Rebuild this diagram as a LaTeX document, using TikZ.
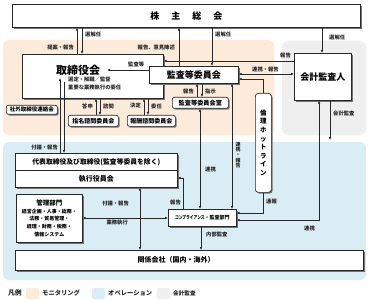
\documentclass[tikz,border=0pt]{standalone}
\usepackage{fontspec}
\setmainfont{Noto Sans CJK JP}
\usepackage{graphicx}
\usetikzlibrary{arrows.meta,shadows}

\definecolor{mon}{RGB}{252,234,219}
\definecolor{ope}{RGB}{219,237,244}
\definecolor{aud}{RGB}{239,239,239}
\definecolor{ln}{RGB}{40,40,40}

\begin{document}
\begin{tikzpicture}[x=1pt,y=-1pt,
  box/.style={draw=ln, fill=white, line width=0.7pt, anchor=north west, inner sep=0pt,
    drop shadow={shadow xshift=1.3pt, shadow yshift=-1.3pt, fill=black!55, opacity=1}},
  rbox/.style={box, rounded corners=2pt},
  lab/.style={font=\fontsize{5.3}{6}\selectfont\bfseries, text=ln, inner sep=0pt},
  leg/.style={font=\fontsize{6.3}{7}\selectfont\bfseries, text=ln, inner sep=0pt, anchor=west},
  arr/.style={draw=ln, line width=0.6pt, -{Latex[length=3pt,width=2.6pt]}},
  darr/.style={draw=ln, line width=0.6pt, {Latex[length=3pt,width=2.6pt]}-{Latex[length=3pt,width=2.6pt]}},
]
\useasboundingbox (0,0) rectangle (369,302);
\fill[white] (0,0) rectangle (369,302);

% regions
\fill[mon, rounded corners=6pt] (3,40) rectangle (274,135);
\fill[aud, rounded corners=6pt] (282,41) rectangle (366,135);
\fill[ope, rounded corners=6pt] (3,142) rectangle (366,280);

% boxes
\node[box, minimum width=348pt, minimum height=23pt, font=\fontsize{9}{10}\selectfont\bfseries] (soukai) at (12,4)
  {株\hspace{12pt}主\hspace{12pt}総\hspace{12pt}会};
\node[box, minimum width=141pt, minimum height=44pt] (torishimari) at (22,54) {};
\node[inner sep=0pt, font=\fontsize{11}{12}\selectfont\bfseries] (tt) at (78,70) {取締役会};
\node[lab, anchor=west] (tt2) at (68,80) {選定・解職／監督};
\node[lab, anchor=west] (tt3) at (68,88) {重要な業務執行の委任};

\node[box, minimum width=89pt, minimum height=17pt, font=\fontsize{9}{10}\selectfont\bfseries] (kansa) at (149,66) {監査等委員会};
\node[box, minimum width=57pt, minimum height=47pt, font=\fontsize{9}{10}\selectfont\bfseries] (kaikei) at (294,53) {会計監査人};

\node[rbox, minimum width=51pt, minimum height=9pt, font=\fontsize{5.5}{6}\selectfont\bfseries] (shagai) at (6,105) {社外取締役連絡会};
\node[rbox, minimum width=50pt, minimum height=11pt, font=\fontsize{6}{7}\selectfont\bfseries] (shimei) at (68,115) {指名諮問委員会};
\node[rbox, minimum width=48pt, minimum height=11pt, font=\fontsize{6}{7}\selectfont\bfseries] (houshu) at (127,115) {報酬諮問委員会};
\node[rbox, minimum width=56pt, minimum height=11pt, font=\fontsize{6.2}{7}\selectfont\bfseries] (kansashitsu) at (172,97) {監査等委員会室};
\node[box, rounded corners=3pt, minimum width=16pt, minimum height=99pt, align=center,
  font=\fontsize{6.5}{8.6}\selectfont\bfseries] (rinri) at (255,93) {倫\\理\\ホ\\ッ\\ト\\ラ\\イ\\ン};

\node[box, minimum width=162pt, minimum height=34pt] (dgroup) at (15,153) {};
\node[draw=ln, line width=0.7pt, fill=white, anchor=north west, inner sep=0pt, minimum width=162pt, minimum height=17pt,
  font=\fontsize{6.8}{8}\selectfont\bfseries] (daihyo) at (15,153) {代表取締役及び取締役(監査等委員を除く)};
\node[draw=ln, line width=0.7pt, fill=white, anchor=north west, inner sep=0pt, minimum width=162pt, minimum height=17pt,
  font=\fontsize{7}{8}\selectfont\bfseries] (shikkou) at (15,170) {執行役員会};

\node[box, minimum width=66pt, minimum height=48pt, align=center, font=\fontsize{5}{7.6}\selectfont\bfseries] (kanri) at (16,194)
  {{\fontsize{6.5}{7.6}\selectfont 管理部門}\\経営企画・人事・総務・\\法務・貿易管理・\\経理・財務・税務・\\情報システム};
\node[box, minimum width=68pt, minimum height=17pt, font=\fontsize{5}{6}\selectfont\bfseries] (comp) at (168,209)
  {\scalebox{0.75}[1]{コンプライアンス}・監査部門};
\node[box, minimum width=348pt, minimum height=20pt] (kankei) at (15,250) {};
\node[inner sep=0pt, font=\fontsize{7}{8}\selectfont\bfseries] (kt) at (176,260) {関係会社（国内・海外）};

% connectors
\draw[arr] (77,0 |- torishimari.north) -- (77,0 |- soukai.south);
\node[lab, anchor=east] (l1) at (74,47) {提案・報告};
\draw[arr] (82,0 |- soukai.south) -- (82,0 |- torishimari.north);
\node[lab, anchor=west] (l2) at (85,34) {選解任};
\draw[arr] (179,0 |- kansa.north) -- (179,0 |- soukai.south);
\node[lab, anchor=east] (l3) at (175,48) {報告、意見陳述};
\draw[arr] (212,0 |- soukai.south) -- (212,0 |- kansa.north);
\node[lab, anchor=west] (l4) at (215,34) {選解任};
\draw[arr] (322,0 |- soukai.south) -- (322,0 |- kaikei.north);
\node[lab, anchor=west] (l5) at (329,37) {選解任};
\draw[arr] (0,61 -| kaikei.west) -- (0,61 -| torishimari.east);
\node[lab, anchor=east] (l6) at (291,55) {報告};
\coordinate (kin) at (107,70);
\draw[arr] (0,70 -| kansa.west) -- (kin);
\node[lab, anchor=west] (l7) at (128,64) {監査等};
\draw[darr] (0,74 -| kansa.east) -- (0,74 -| kaikei.west);
\node[lab, anchor=west] (l8) at (252,69) {連携・報告};
\draw[arr] (263,0 |- rinri.north) -- (263,79) -- (0,79 -| kansa.east);
\draw[arr] (197,0 |- kansashitsu.north) -- (197,0 |- kansa.south);
\draw[arr] (202,0 |- kansa.south) -- (202,0 |- kansashitsu.north);
\node[lab, anchor=east] (l9) at (194,91) {報告};
\node[lab, anchor=west] (l10) at (205,91) {指示};
\draw[darr] (200,0 |- kansashitsu.south) -- (200,0 |- comp.north);
\node[lab, anchor=west] (l11) at (205,169) {連携};
\draw[darr] (232,0 |- kansa.south) -- (232,0 |- comp.north);
\node[lab, align=center, font=\fontsize{5}{5.4}\selectfont\bfseries] (l12) at (238,155) {連\\携\\・\\報\\告};
\draw[arr] (263,0 |- rinri.south) -- (263,213) -- (0,213 -| comp.east);
\node[lab, anchor=west] (l13) at (266,202) {通報};
\draw[darr] (319,0 |- kaikei.south) -- (319,220) -- (0,220 -| comp.east);
\node[lab, anchor=west] (l14) at (304,228) {連携};
\coordinate (opetop) at (330,140);
\draw[arr] (330,0 |- kaikei.south) -- (opetop);
\node[lab, anchor=west] (l15) at (333,113) {会計監査};
\coordinate (tin1) at (60,78);
\coordinate (tin2) at (64,82);
\draw[arr] (60,0 |- daihyo.north) -- (tin1);
\draw[arr] (tin2) -- (64,0 |- daihyo.north);
\node[lab, anchor=east] (l16) at (58,147) {付議・報告};
\draw[arr] (96,0 |- shimei.north) -- (96,0 |- torishimari.south);
\draw[arr] (100,0 |- torishimari.south) -- (100,0 |- shimei.north);
\node[lab, anchor=east] (l17) at (93,106) {答申};
\node[lab, anchor=west] (l18) at (103,106) {諮問};
\draw[arr] (144,0 |- houshu.north) -- (144,0 |- torishimari.south);
\draw[arr] (148,0 |- torishimari.south) -- (148,0 |- houshu.north);
\node[lab, anchor=east] (l19) at (141,106) {決定};
\node[lab, anchor=west] (l20) at (151,106) {委任};
\draw[arr] (183,0 |- comp.north) -- (183,178) -- (0,178 -| shikkou.east);
\node[lab, anchor=east] (l21) at (181,202) {報告};
\draw[darr] (140,0 |- shikkou.south) -- (140,0 |- kankei.north);
\node[lab, anchor=east] (l22) at (129,203) {付議・報告};
\node[lab, anchor=east] (l23) at (128,223) {業務執行};
\draw[darr] (0,218 -| kanri.east) -- (0,218 -| comp.west);
\draw[arr] (201,0 |- comp.south) -- (201,0 |- kankei.north);
\node[lab, anchor=west] (l24) at (206,234) {内部監査};

% legend
\node[leg, font=\fontsize{6.8}{7}\selectfont\bfseries] (lg0) at (8,293) {凡例};
\fill[mon, rounded corners=1.5pt] (26,288) rectangle (39,299);
\node[leg] (lg1) at (42,293) {モニタリング};
\fill[ope, rounded corners=1.5pt] (92,288) rectangle (105,299);
\node[leg] (lg2) at (108,293) {オペレーション};
\fill[aud, rounded corners=1.5pt] (157,288) rectangle (170,299);
\node[leg, font=\fontsize{5.6}{7}\selectfont\bfseries] (lg3) at (173,293) {会計監査};
\end{tikzpicture}
\end{document}
